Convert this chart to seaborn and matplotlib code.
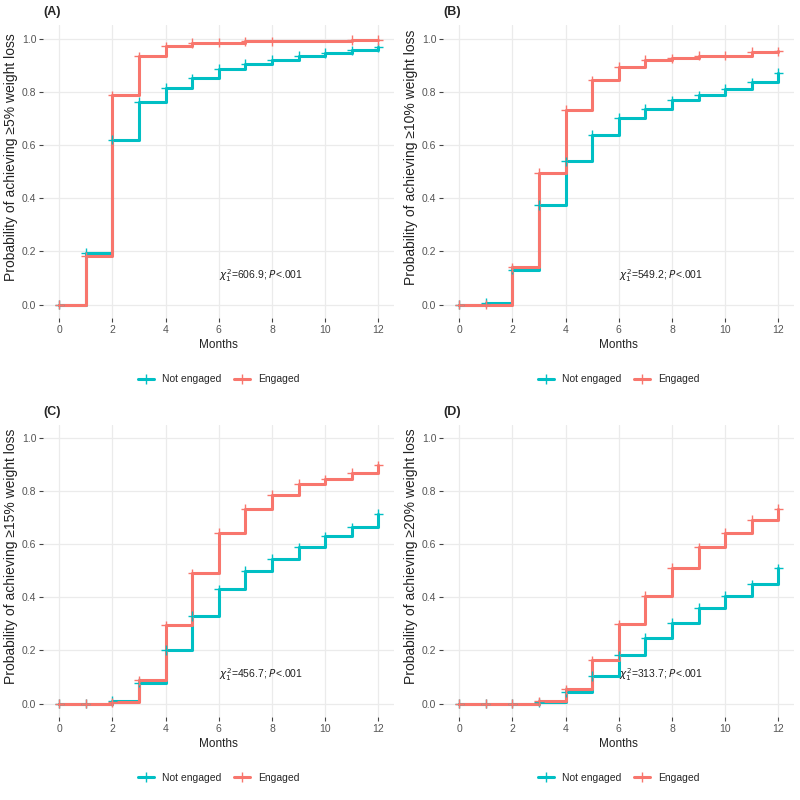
import numpy as np
import pandas as pd
import seaborn as sns
import matplotlib.pyplot as plt
from matplotlib.lines import Line2D

# cumulative probability of reaching weight-loss target, months 0..12
months = list(range(13))

a_not = [0, 0.194, 0.62, 0.762, 0.815, 0.85, 0.886, 0.905, 0.92, 0.934, 0.946, 0.956, 0.967]
a_eng = [0, 0.182, 0.786, 0.933, 0.971, 0.983, 0.985, 0.989, 0.99, 0.991, 0.992, 0.994, 0.994]

b_not = [0, 0.008, 0.131, 0.375, 0.539, 0.637, 0.702, 0.737, 0.768, 0.787, 0.811, 0.836, 0.87]
b_eng = [0, 0, 0.14, 0.496, 0.733, 0.843, 0.893, 0.92, 0.925, 0.936, 0.936, 0.95, 0.952]

c_not = [0, 0, 0.01, 0.078, 0.202, 0.33, 0.43, 0.499, 0.546, 0.589, 0.63, 0.664, 0.714]
c_eng = [0, 0, 0.004, 0.088, 0.294, 0.49, 0.642, 0.734, 0.787, 0.828, 0.845, 0.868, 0.897]

d_not = [0, 0, 0, 0.004, 0.044, 0.104, 0.182, 0.248, 0.305, 0.361, 0.405, 0.449, 0.509]
d_eng = [0, 0, 0, 0.008, 0.054, 0.163, 0.298, 0.405, 0.511, 0.589, 0.643, 0.692, 0.734]

# months without a censor mark on the engaged curve of panel A
a_eng_unmarked = [9, 10]

panels = ['(A)', '(B)', '(C)', '(D)']
targets = ['5%', '10%', '15%', '20%']
chi_sq = ['606.9', '549.2', '456.7', '313.7']
groups = ['Not engaged', 'Engaged']
colors = {'Not engaged': '#00BFC4', 'Engaged': '#F8766D'}

series = [(a_not, a_eng), (b_not, b_eng), (c_not, c_eng), (d_not, d_eng)]

sns.set_theme(style='whitegrid')
plt.rcParams['font.family'] = ['Liberation Sans', 'DejaVu Sans']
plt.rcParams['mathtext.fontset'] = 'dejavusans'

fig = plt.figure(figsize=(8, 8), dpi=100)
# axes boxes in figure fractions (left, bottom, width, height)
boxes = [[0.054, 0.6025, 0.439, 0.366],
         [0.554, 0.6025, 0.439, 0.366],
         [0.054, 0.104, 0.439, 0.365],
         [0.554, 0.104, 0.439, 0.365]]

for i in range(4):
    ax = fig.add_axes(boxes[i])
    not_eng, eng = series[i]
    df = pd.DataFrame({
        'month': months * 2,
        'prob': not_eng + eng,
        'group': ['Not engaged'] * 13 + ['Engaged'] * 13,
    })
    sns.lineplot(data=df, x='month', y='prob', hue='group', hue_order=groups,
                 palette=colors, drawstyle='steps-post', estimator=None,
                 linewidth=2.2, legend=False, ax=ax)
    # censor marks
    marks = df
    if i == 0:
        marks = df[~((df['group'] == 'Engaged') & df['month'].isin(a_eng_unmarked))]
    sns.scatterplot(data=marks, x='month', y='prob', hue='group', hue_order=groups,
                    palette=colors, marker='+', s=45, linewidth=1.0,
                    legend=False, ax=ax, zorder=3)

    ax.set_xlim(-0.6, 12.6)
    ax.set_ylim(-0.05, 1.05)
    ax.set_xticks(range(0, 13, 2))
    ax.set_yticks(np.arange(0, 1.01, 0.2))
    ax.set_yticklabels(['0.0', '0.2', '0.4', '0.6', '0.8', '1.0'])
    ax.tick_params(axis='both', labelsize=7.5, labelcolor='#555555', color='#444444',
                   length=3, width=0.8, pad=2, left=True, bottom=True)
    for s in ax.spines.values():
        s.set_visible(False)
    ax.grid(color='#EBEBEB', linewidth=0.9)

    ax.set_xlabel('Months', fontsize=8.5, color='#222222', labelpad=3)
    ax.set_ylabel('Probability of achieving \u2265' + targets[i] + ' weight loss',
                  fontsize=10, color='#222222')
    ax.yaxis.set_label_coords(-0.072, 0.55)
    ax.text(0.0, 1.045, panels[i], transform=ax.transAxes, fontsize=9,
            fontweight='bold', ha='left', va='center')

    ax.text(6, 0.11, r'$\chi^2_1$=' + chi_sq[i] + r'; $P$<.001',
            fontsize=7.5, color='#222222', ha='left', va='center')

    handles = [Line2D([], [], color=colors[g], linewidth=2.2, marker='+',
                      markersize=7, markeredgewidth=1.0) for g in groups]
    ax.legend(handles, groups, loc='upper center', bbox_to_anchor=(0.5, -0.16),
              ncol=2, frameon=False, fontsize=7.5, handlelength=1.5,
              columnspacing=1.2)

fig.savefig('out.png', dpi=100)
